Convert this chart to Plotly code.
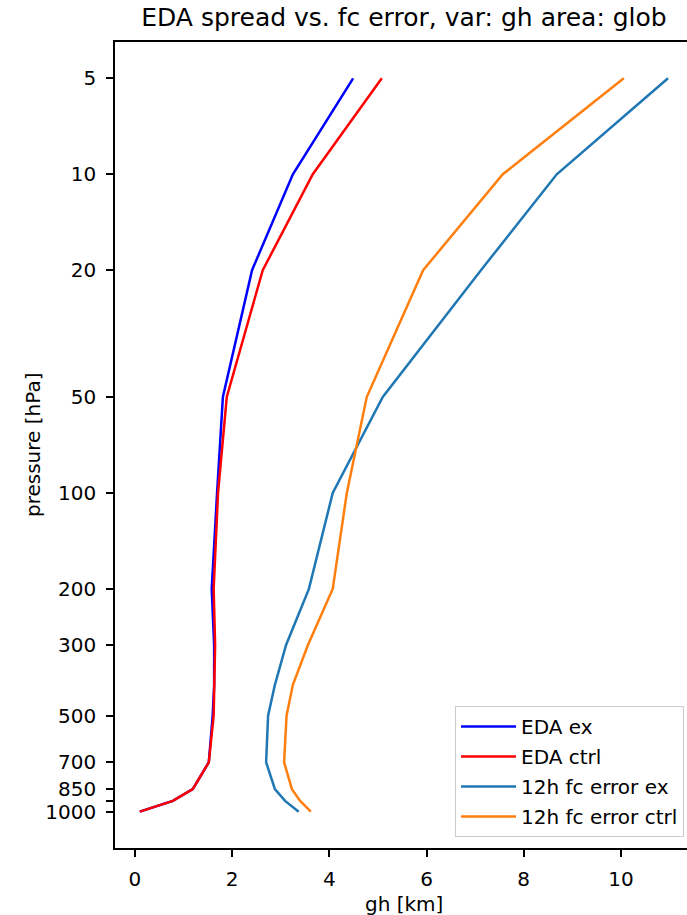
import plotly.graph_objects as go

levels = [5, 10, 20, 50, 100, 200, 300, 400, 500, 700, 850, 925, 1000]
eda_ex = [4.49, 3.25, 2.41, 1.81, 1.69, 1.58, 1.63, 1.63, 1.60, 1.52, 1.19, 0.78, 0.10]
eda_ctrl = [5.08, 3.66, 2.63, 1.89, 1.71, 1.62, 1.65, 1.64, 1.62, 1.52, 1.19, 0.78, 0.10]
fc_ex = [10.97, 8.68, 7.12, 5.10, 4.07, 3.58, 3.11, 2.88, 2.74, 2.70, 2.88, 3.09, 3.37]
fc_ctrl = [10.06, 7.57, 5.93, 4.77, 4.36, 4.07, 3.56, 3.25, 3.12, 3.07, 3.23, 3.40, 3.62]

ytick_vals = [5, 10, 20, 50, 100, 200, 300, 500, 700, 850, 925, 1000]
ytick_text = ["5", "10", "20", "50", "100", "200", "300", "500", "700", "850", "", "1000"]
xtick_vals = [0, 2, 4, 6, 8, 10]

series = [
    ("EDA ex", eda_ex, "#0000ff"),
    ("EDA ctrl", eda_ctrl, "#ff0000"),
    ("12h fc error ex", fc_ex, "#1f77b4"),
    ("12h fc error ctrl", fc_ctrl, "#ff7f0e"),
]

fig = go.Figure()
for i, (name, vals, col) in enumerate(series):
    fig.add_trace(go.Scatter(x=vals, y=levels, mode="lines", name=name,
                             line=dict(color=col, width=2.5), legendgroup=f"g{i}"))

font = "DejaVu Sans"
L, T, B, W, H = 115, 42, 67, 687, 915
plot_w = W - L
plot_h = H - T - B

fig.update_layout(
    width=W, height=H,
    margin=dict(l=L, r=0, t=T, b=B),
    paper_bgcolor="white", plot_bgcolor="white",
    font=dict(family=font, size=20, color="black"),
    title=dict(text="EDA spread vs. fc error, var: gh area: glob",
               x=404 / W, xanchor="center", y=1 - 17 / H, yanchor="middle",
               font=dict(family=font, size=25, color="black")),
    showlegend=True,
    legend=dict(x=0.9948, y=0.0136, xanchor="right", yanchor="bottom",
                bgcolor="rgba(255,255,255,0.8)", bordercolor="#cccccc", borderwidth=1,
                font=dict(family=font, size=20, color="black"),
                itemwidth=55, tracegroupgap=1),
    xaxis=dict(range=[-0.41, 11.36], tickvals=xtick_vals, showgrid=False, zeroline=False,
               showline=True, mirror=True, linecolor="black", linewidth=1.6,
               ticks="outside", ticklen=7, tickcolor="black", tickwidth=1.6,
               ticklabelstandoff=5),
    yaxis=dict(type="log", range=[3.114, 0.585], tickvals=ytick_vals, ticktext=ytick_text,
               showgrid=False, zeroline=False,
               showline=True, mirror=False, linecolor="black", linewidth=1.6,
               ticks="outside", ticklen=7, tickcolor="black", tickwidth=1.6,
               ticklabelstandoff=6),
    annotations=[
        dict(text="gh [km]", xref="paper", yref="paper",
             x=(404 - L) / plot_w, y=-(904 - (H - B)) / plot_h,
             xanchor="center", yanchor="middle", showarrow=False,
             font=dict(family=font, size=20, color="black")),
        dict(text="pressure [hPa]", xref="paper", yref="paper",
             x=-(L - 33) / plot_w, y=0.5, textangle=-90,
             xanchor="center", yanchor="middle", showarrow=False,
             font=dict(family=font, size=20, color="black")),
    ],
)

fig.write_html("out.html")
